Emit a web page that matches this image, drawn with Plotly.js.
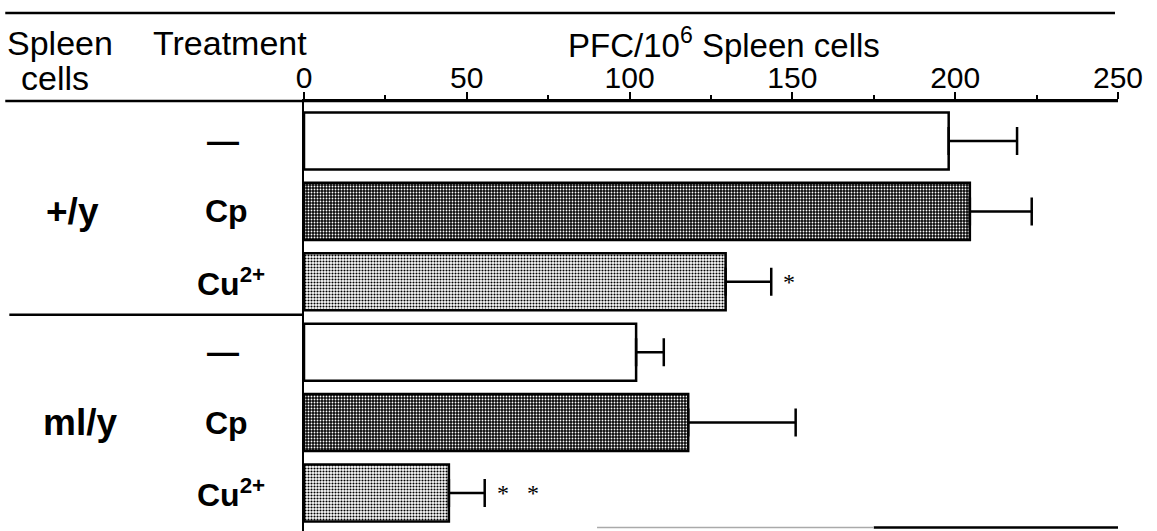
<!DOCTYPE html>
<html>
<head>
<meta charset="utf-8">
<script src="https://cdn.plot.ly/plotly-3.0.1.min.js"></script>
<style>html,body{margin:0;padding:0;background:#fff;}#chart{width:1157px;height:531px;}</style>
</head>
<body>
<div id="chart"></div>
<script>
// ---- data ----
const groups = ["+/y", "ml/y"];
const treatments = ["—", "Cp", "Cu<sup>2+</sup>"];
const means = [198, 204.5, 129.5, 102, 118, 44.5];
const errors = [21, 19, 14, 8.5, 33, 11];
const marks = ["", "", "*", "", "", "* *"];
const xTickVals = [0, 50, 100, 150, 200, 250];
const xTickText = ["0", "50", "100", "150", "200", "250"];

// ---- build ----
const cats = [];
groups.forEach(g => treatments.forEach(t => cats.push(g + "|" + t)));

const styles = [
  {color: "#ffffff", pattern: {shape: ""}},
  {color: "#000000", pattern: {shape: ".", fgcolor: "#ffffff", bgcolor: "#0a0a0a", size: 3, solidity: 0.3, fillmode: "replace"}},
  {color: "#ffffff", pattern: {shape: ".", fgcolor: "#000000", bgcolor: "#ffffff", size: 3, solidity: 0.38, fillmode: "replace"}}
];

const traces = treatments.map((t, ti) => {
  const y = [], x = [], e = [];
  groups.forEach((g, gi) => {
    const idx = gi * treatments.length + ti;
    y.push(cats[idx]); x.push(means[idx]); e.push(errors[idx]);
  });
  return {
    type: "bar", orientation: "h", y: y, x: x, width: 0.81,
    marker: {color: styles[ti].color, pattern: styles[ti].pattern, line: {color: "#000", width: 2.5}},
    error_x: {type: "data", symmetric: false, array: e, arrayminus: e.map(() => 0), color: "#000", thickness: 2.5, width: 14},
    hoverinfo: "skip", showlegend: false
  };
});

const font = "Liberation Sans, Arial, Helvetica, sans-serif";
const tickFont = "Liberation Sans Narrow, Arial Narrow, Liberation Sans, sans-serif";
const annotations = [];
const addText = (text, x, y, yref, size, bold, extra) => {
  annotations.push(Object.assign({
    text: bold ? "<b>" + text + "</b>" : text, xref: "paper", yref: yref, x: x, y: y,
    showarrow: false, xanchor: "center", yanchor: "middle",
    font: {family: font, size: size, color: "#000"}
  }, extra || {}));
};

// header
addText("Spleen", -0.367, 1.134, "paper", 34, false, {xanchor: "left"});
addText("cells", -0.3060, 1.053, "paper", 34, false);
addText("Treatment", 0.006, 1.134, "paper", 34, false, {xanchor: "right"});
addText("PFC/10<sup>6</sup> Spleen cells", 0.516, 1.136, "paper", 33, false);

// row labels
const trtX = [-0.0995, -0.0958, -0.0897];
const grpX = [-0.285, -0.275];
groups.forEach((g, gi) => {
  addText(g, grpX[gi], cats[gi * 3 + 1], "y", 37, true);
  treatments.forEach((t, ti) => {
    addText(t, trtX[ti], cats[gi * 3 + ti], "y", 32, true);
  });
});

// significance marks
marks.forEach((m, i) => {
  if (!m) return;
  annotations.push({
    text: m.replace(/ /g, "\u00a0\u00a0\u00a0"), xref: "x", yref: "y", x: means[i] + errors[i], y: cats[i],
    xanchor: "left", yanchor: "middle", xshift: 10, showarrow: false,
    font: {family: "Liberation Serif, DejaVu Serif, serif", size: 24, color: "#000"}
  });
});

const shapes = [
  {type: "line", xref: "paper", yref: "paper", x0: -0.367, x1: 0.9963, y0: 1.2047, y1: 1.2047, line: {color: "#000", width: 2.5}},
  {type: "line", xref: "paper", yref: "paper", x0: -0.367, x1: 1.0, y0: 1.0, y1: 1.0, line: {color: "#000", width: 2.5}},
  {type: "line", xref: "paper", yref: "y", x0: -0.362, x1: 0, y0: 2.47, y1: 2.47, line: {color: "#000", width: 2.5}},
  {type: "line", xref: "paper", yref: "paper", x0: 0.70, x1: 1.0, y0: 0.008, y1: 0.008, line: {color: "#000", width: 2.5}},
  {type: "line", xref: "paper", yref: "paper", x0: 0.36, x1: 0.70, y0: 0.008, y1: 0.008, line: {color: "#aaa", width: 1.5}}
];

const layout = {
  width: 1157, height: 531,
  margin: {l: 304, r: 39, t: 101, b: 0, pad: 0},
  paper_bgcolor: "#fff", plot_bgcolor: "#fff",
  barmode: "overlay",
  xaxis: {
    side: "top", range: [0, 250], showgrid: false, zeroline: false,
    showline: true, linecolor: "#000", linewidth: 2,
    ticks: "outside", ticklen: 7, tickwidth: 2, tickcolor: "#000",
    tickvals: xTickVals, ticktext: xTickText, ticklabelstandoff: -8,
    minor: {dtick: 25, ticks: "outside", ticklen: 4, tickwidth: 2, tickcolor: "#000", showgrid: false},
    tickfont: {family: tickFont, size: 30, color: "#000"}, fixedrange: true
  },
  yaxis: {
    type: "category", categoryorder: "array", categoryarray: cats,
    range: [5.54, -0.568], showticklabels: false, ticks: "", showgrid: false, zeroline: false,
    showline: true, linecolor: "#000", linewidth: 2.5, fixedrange: true
  },
  annotations: annotations, shapes: shapes
};

Plotly.newPlot("chart", traces, layout, {displayModeBar: false, staticPlot: true});
</script>
</body>
</html>
